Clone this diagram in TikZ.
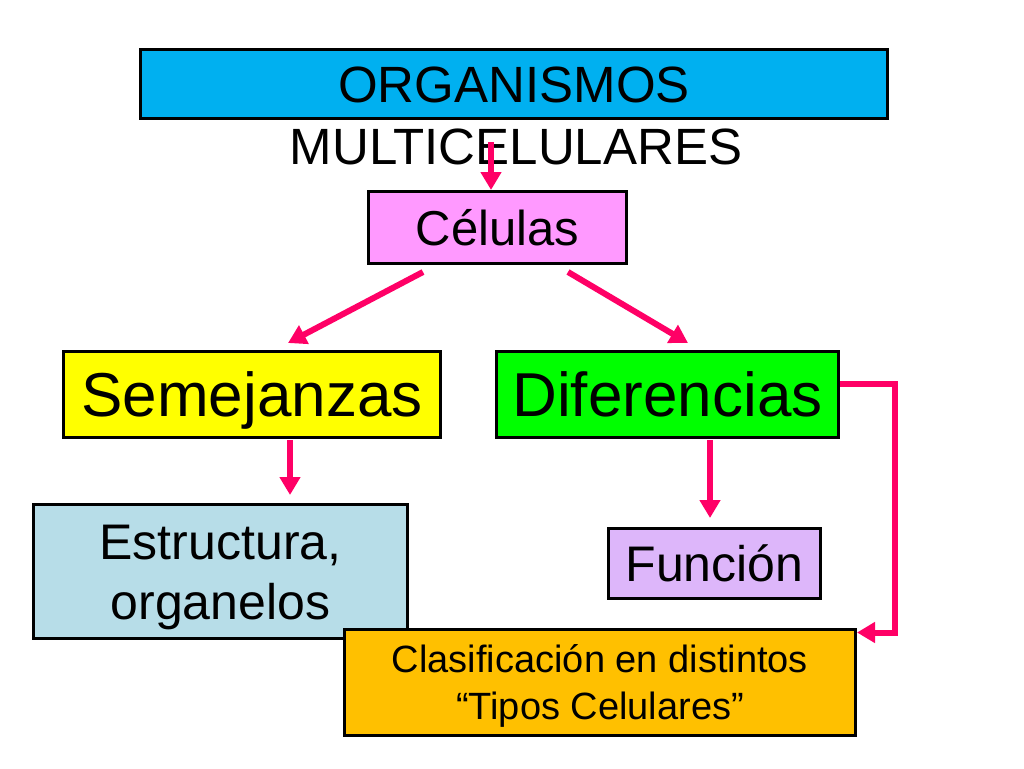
\documentclass[tikz,border=0pt]{standalone}
\usepackage{fontspec}
\setmainfont{Liberation Sans}
\usepackage{xcolor}
\usetikzlibrary{positioning, arrows.meta}
\definecolor{azul}{HTML}{00B0F0}
\definecolor{rosado}{HTML}{FF99FF}
\definecolor{amarillo}{HTML}{FFFF00}
\definecolor{verde}{HTML}{00FF00}
\definecolor{celeste}{HTML}{B7DDE8}
\definecolor{lila}{HTML}{DDB6FA}
\definecolor{naranja}{HTML}{FFC000}
\definecolor{fucsia}{HTML}{FF0066}

\begin{document}
\begin{tikzpicture}[x=1pt, y=-1pt,
        caja/.style={draw=black, line width=3pt, inner sep=0pt,
            text depth=0pt, align=center},
        flecha/.style={draw=fucsia, line width=6pt,
            -{Triangle[length=18pt,width=20pt]}}]
    \useasboundingbox (0,0) rectangle (1024,768);
        \node[caja, fill=azul, minimum width=747pt, minimum height=69pt, text height=36.7pt,
            font=\fontsize{51}{60}\selectfont] (org) at (514,84) {ORGANISMOS};
        \node[inner sep=0pt, text height=36.7pt, text depth=0pt,
            font=\fontsize{51}{60}\selectfont] (multi) at (516,146.5) {MULTICELULARES};
        \node[caja, fill=rosado, minimum width=258pt, minimum height=72pt, text height=35.3pt,
            font=\fontsize{49}{58}\selectfont] [below = 70pt of org, xshift=-16.5pt] (cel) {Células};
        \node[caja, fill=amarillo, minimum width=377pt, minimum height=86pt, text height=44.6pt,
            font=\fontsize{62}{70}\selectfont] [below = 85pt of cel, xshift=-245.5pt] (sem) {Semejanzas};
        \node[caja, fill=verde, minimum width=342pt, minimum height=86pt, text height=44.6pt,
            font=\fontsize{62}{70}\selectfont] [right = 53pt of sem] (dif) {Diferencias};
        \node[caja, fill=celeste, minimum width=374pt, minimum height=134pt, text height=96pt,
            font=\fontsize{50}{60}\selectfont] [below = 64pt of sem, xshift=-31.5pt] (est) {Estructura,\\organelos};
        \node[caja, fill=lila, minimum width=212pt, minimum height=70pt, text height=36pt,
            font=\fontsize{50}{60}\selectfont] [below = 88pt of dif, xshift=47pt] (fun) {Función};
        \node[caja, fill=naranja, minimum width=511pt, minimum height=106pt, text height=74.4pt,
            font=\fontsize{38}{47}\selectfont] [below = 28pt of fun, xshift=-114.5pt] (clas) {Clasificación en distintos\\“Tipos Celulares”};
        \coordinate (orgout) at (491,142);
	\draw[flecha] (orgout) -- (orgout |- cel.north);
	\draw[flecha] ([shift={(-74.5,7)}]cel.south) -- ([shift={(36,-7)}]sem.north);
	\draw[flecha] ([shift={(70.5,7)}]cel.south) -- ([shift={(20.5,-7)}]dif.north);
	\draw[flecha] ([shift={(38,1)}]sem.south) -- ([shift={(69.5,-8)}]est.north);
	\draw[flecha] ([shift={(42.5,1)}]dif.south) -- ([shift={(-4.5,-9)}]fun.north);
	\draw[flecha] ([shift={(0,-11)}]dif.east) -- ++(55,0) |- ([shift={(0,-50)}]clas.east);
    \end{tikzpicture}
\end{document}
